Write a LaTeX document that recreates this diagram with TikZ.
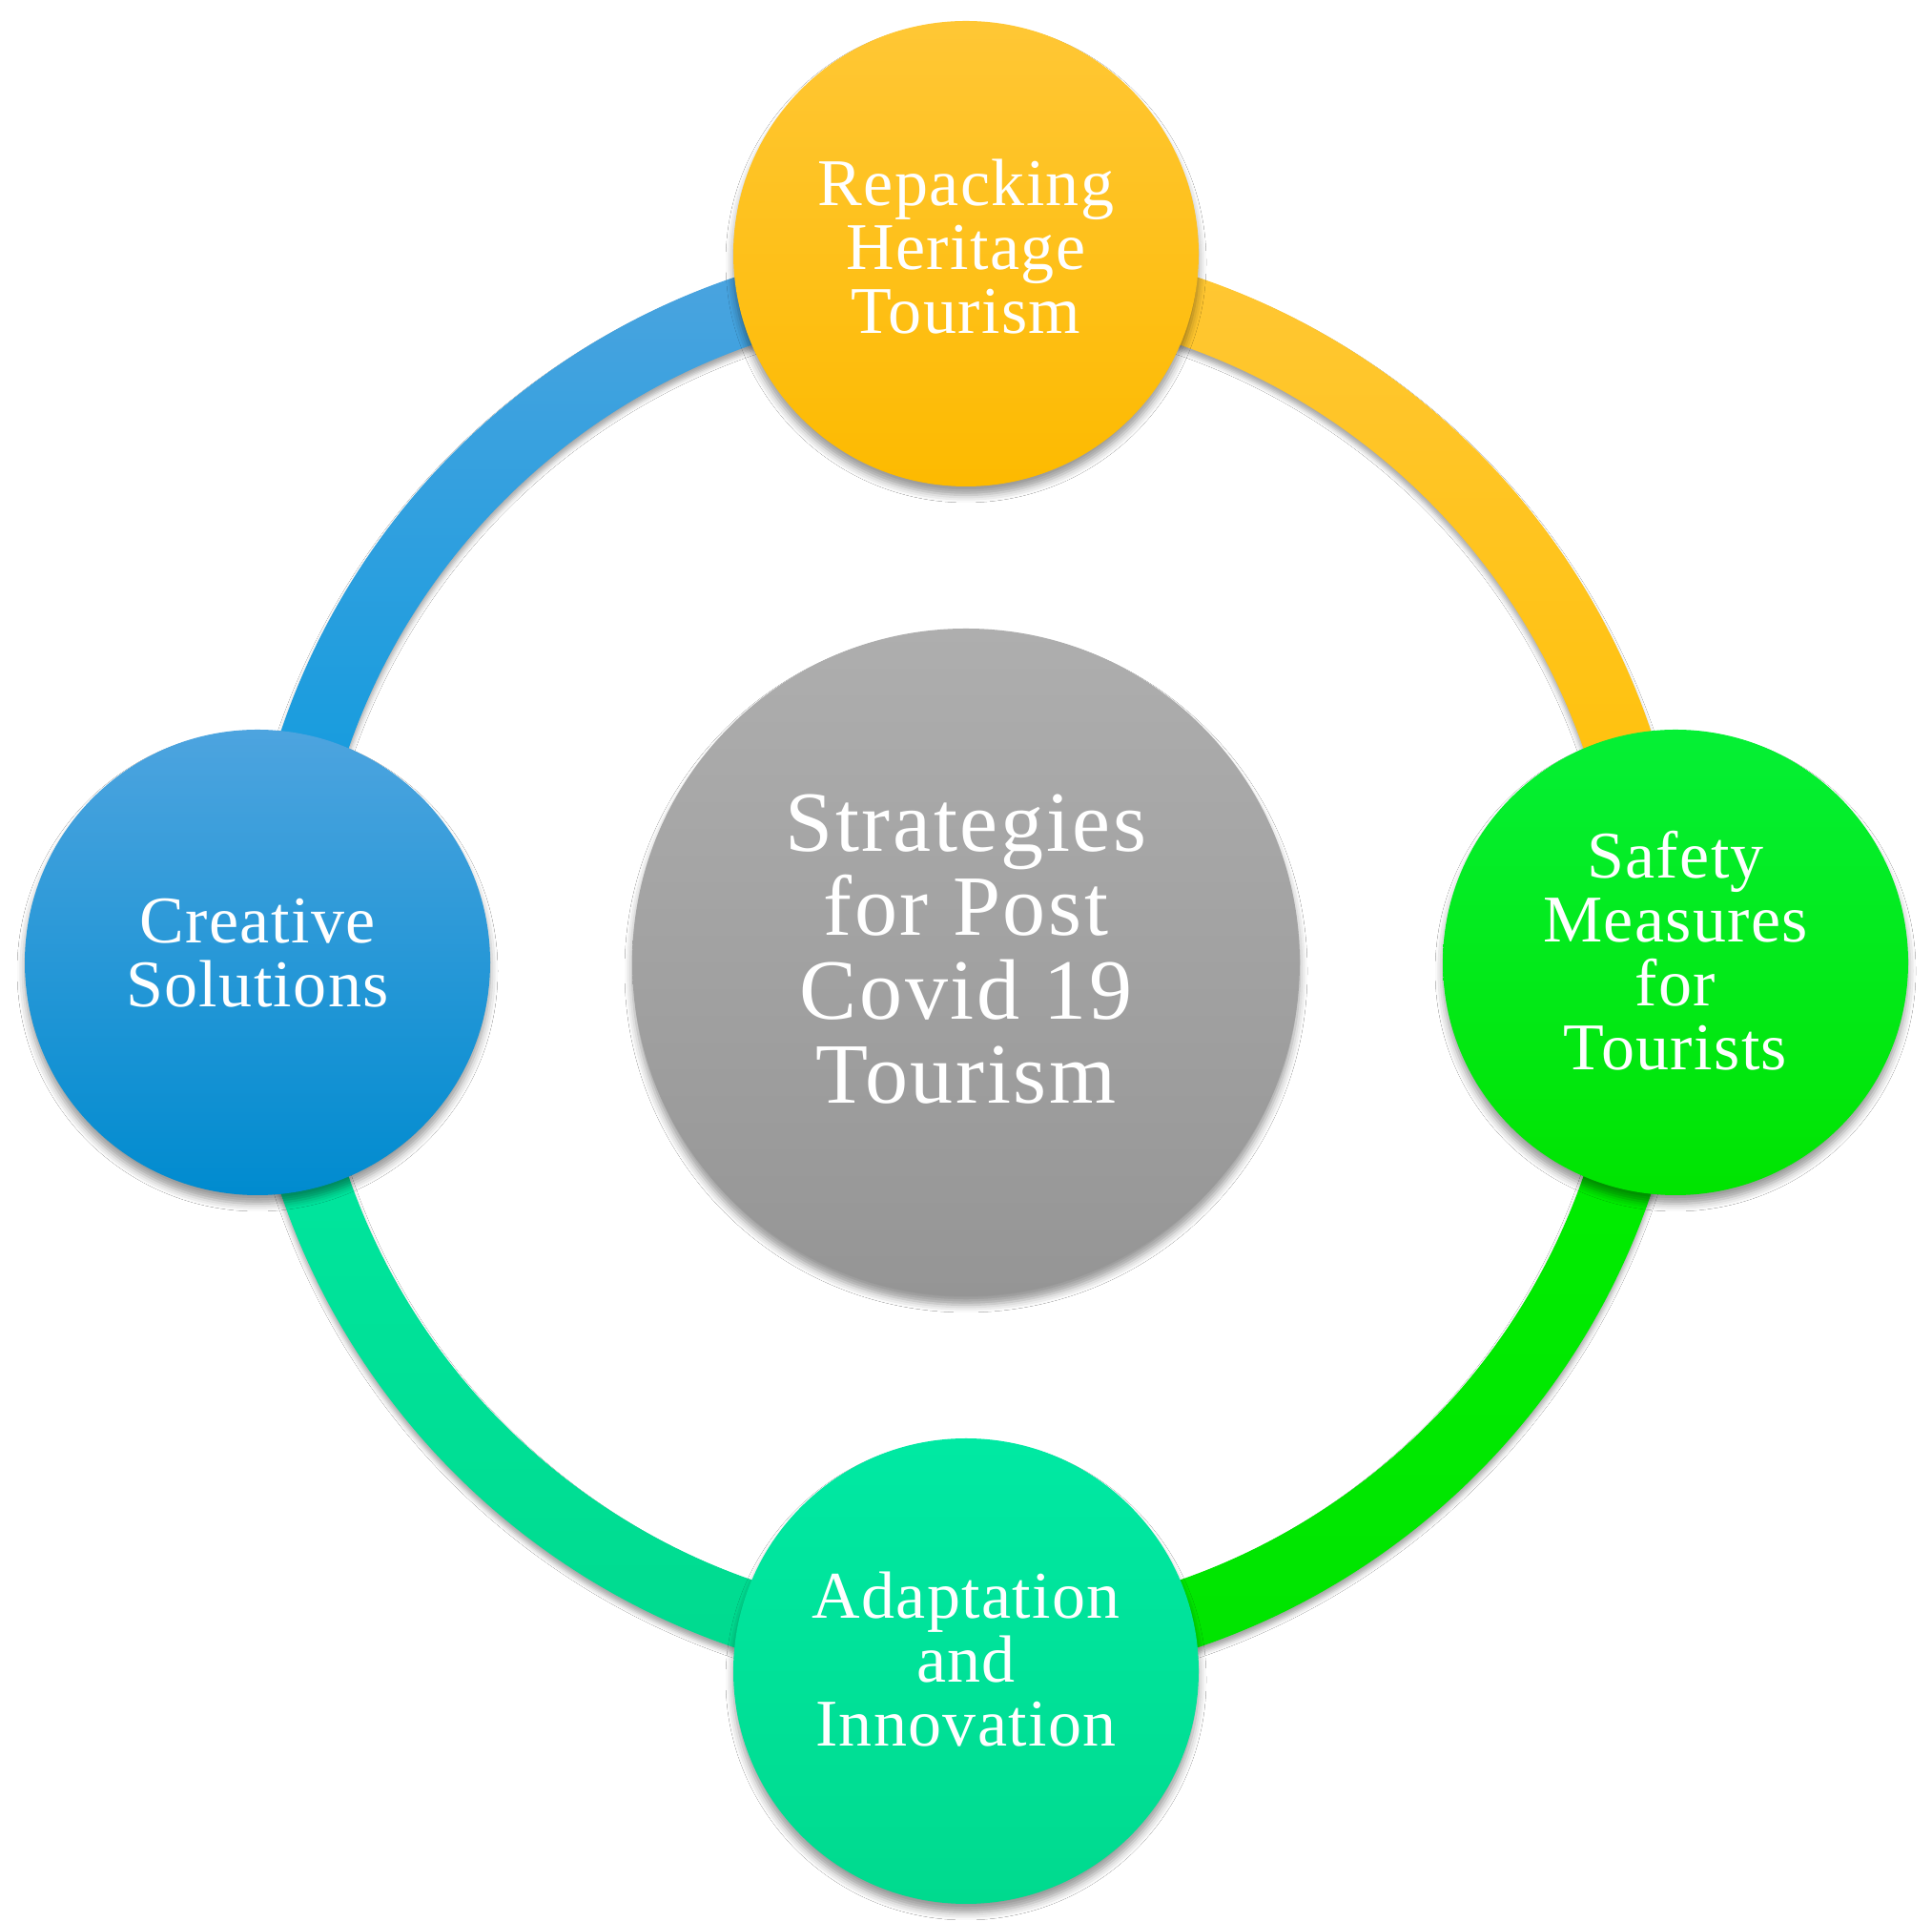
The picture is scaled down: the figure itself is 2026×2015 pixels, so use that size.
\documentclass[tikz,border=0pt]{standalone}
\usepackage{fontspec}
\newfontfamily\rf[LetterSpace=2]{Liberation Serif}
\newfontfamily\rfhub[LetterSpace=3]{Liberation Serif}
\usetikzlibrary{shadows.blur}
\newcommand\liftup[1]{\rule[-#1]{0pt}{#1}}
\definecolor{yelT}{HTML}{FFC735}
\definecolor{yelM}{HTML}{FFC000}
\definecolor{yelB}{HTML}{FDBA00}
\definecolor{bluT}{HTML}{4DA4DF}
\definecolor{bluM}{HTML}{0399DE}
\definecolor{bluB}{HTML}{008BCF}
\definecolor{grnT}{HTML}{05F035}
\definecolor{grnM}{HTML}{00F000}
\definecolor{grnB}{HTML}{00E400}
\definecolor{tealT}{HTML}{00E9A3}
\definecolor{tealM}{HTML}{00E69A}
\definecolor{tealB}{HTML}{00DA8E}
\definecolor{gryT}{HTML}{AEAEAE}
\definecolor{gryM}{HTML}{A4A4A4}
\definecolor{gryB}{HTML}{959595}
\begin{document}
\begin{tikzpicture}[x=1pt,y=1pt,
  softshadow/.style={blur shadow={shadow xshift=0pt, shadow yshift=-9pt, shadow blur radius=8pt, shadow opacity=40}},
  segshadow/.style={blur shadow={shadow xshift=0pt, shadow yshift=-6pt, shadow blur radius=5pt, shadow opacity=35}},
  bub/.style={circle, inner sep=0pt, minimum size=488pt, align=center, text=white,
    font=\rf\fontsize{70}{67}\selectfont, softshadow},
  hubstyle/.style={circle, inner sep=0pt, minimum size=700pt, align=center, text=white,
    font=\rfhub\fontsize{90}{88}\selectfont, softshadow}]
\fill[white] (0,0) rectangle (2026,2015);
\useasboundingbox (0,0) rectangle (2026,2015);

\coordinate (hubc) at (1013,1006);

% ring segments
\shade[segshadow, top color=yelT, bottom color=yelM]
  ([shift={(hubc)}]90:758pt) arc[start angle=90, end angle=0, radius=758pt]
  -- ([shift={(hubc)}]0:685pt) arc[start angle=0, end angle=90, radius=685pt] -- cycle;
\shade[segshadow, top color=grnM, bottom color=grnB]
  ([shift={(hubc)}]0:758pt) arc[start angle=0, end angle=-90, radius=758pt]
  -- ([shift={(hubc)}]-90:685pt) arc[start angle=-90, end angle=0, radius=685pt] -- cycle;
\shade[segshadow, top color=tealT, bottom color=tealB]
  ([shift={(hubc)}]270:758pt) arc[start angle=270, end angle=180, radius=758pt]
  -- ([shift={(hubc)}]180:685pt) arc[start angle=180, end angle=270, radius=685pt] -- cycle;
\shade[segshadow, top color=bluT, bottom color=bluM]
  ([shift={(hubc)}]180:758pt) arc[start angle=180, end angle=90, radius=758pt]
  -- ([shift={(hubc)}]90:685pt) arc[start angle=90, end angle=180, radius=685pt] -- cycle;

% outer circles
\node[bub, top color=yelT, middle color=yelM, bottom color=yelB] (heritage) at (1013,1749)
  {Repacking\\Heritage\\Tourism\liftup{16pt}};
\node[bub, top color=grnT, middle color=grnM, bottom color=grnB] (safety) at (1757,1006)
  {Safety\\Measures\\for\\Tourists\liftup{26pt}};
\node[bub, top color=tealT, middle color=tealM, bottom color=tealB] (adapt) at (1013,263)
  {Adaptation\\and\\Innovation\liftup{26pt}};
\node[bub, top color=bluT, middle color=bluM, bottom color=bluB] (creative) at (270,1006)
  {Creative\\Solutions\liftup{20pt}};

% hub
\node[hubstyle, top color=gryT, middle color=gryM, bottom color=gryB] (hub) at (hubc)
  {Strategies\\for Post\\Covid 19\\Tourism\liftup{28pt}};
\end{tikzpicture}
\end{document}
